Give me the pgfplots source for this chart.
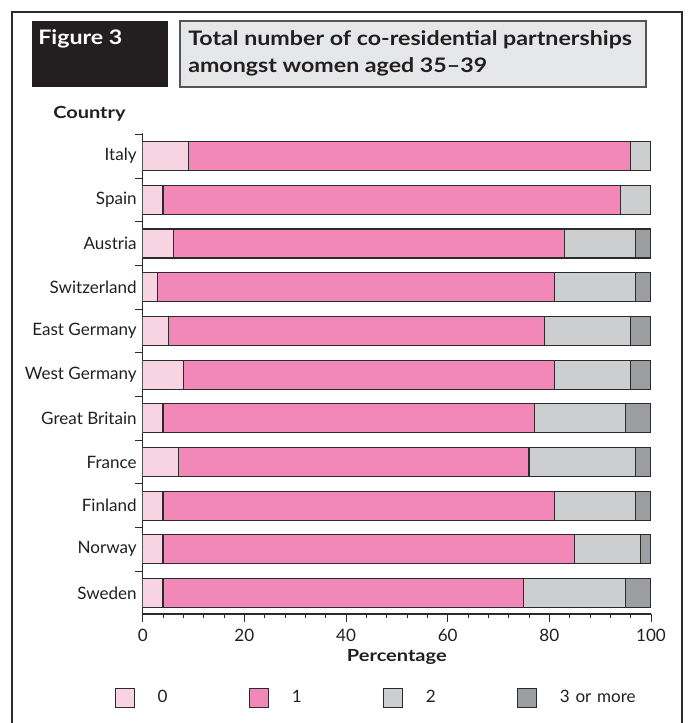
\documentclass[border=0pt]{standalone}
\usepackage{fontspec}
\setmainfont{Lato}
\newfontfamily\titlefont[FakeStretch=1.16,Ligatures=TeX]{Lato}
\newfontfamily\boldlab[FakeStretch=1.2,Ligatures=TeX]{Lato}
\usepackage{pgfplots}
\pgfplotsset{compat=1.18}
\definecolor{cZero}{HTML}{F8D3E1}
\definecolor{cOne}{HTML}{F288B7}
\definecolor{cTwo}{HTML}{CDCED0}
\definecolor{cThree}{HTML}{9D9EA2}
\definecolor{titlebg}{HTML}{E6E7E8}
\definecolor{figbg}{HTML}{231F20}
\definecolor{edge}{HTML}{2B2B2B}
\begin{document}
\begin{tikzpicture}
\path[use as bounding box] (0pt,0pt) rectangle (516pt,-542.25pt);
\begin{scope}[x=0.75pt,y=-0.75pt]
\draw[line width=0.9pt, edge] (12,723) -- (12,12) -- (682,12) -- (682,723);
\fill[figbg] (32,21) rectangle (168,87);
\node[anchor=base west, text=white, inner sep=0pt, font=\titlefont\bfseries\fontsize{15}{18}\selectfont] at (38,45) {Figure 3};
\draw[fill=titlebg, draw=edge!80, line width=0.8pt] (180,21) rectangle (646,87);
\node[anchor=base west, inner sep=0pt, text=figbg, font=\titlefont\bfseries\fontsize{15}{18}\selectfont] at (188,46) {Total number of co-residential partnerships};
\node[anchor=base west, inner sep=0pt, text=figbg, font=\titlefont\bfseries\fontsize{15}{18}\selectfont] at (188,73) {amongst women aged 35–39};
\node[anchor=base west, inner sep=0pt, text=figbg, font=\boldlab\bfseries\fontsize{12.5}{15}\selectfont] at (53,119) {Country};
\coordinate (axSW) at (142.7,614);
\end{scope}
\begin{axis}[
  at={(axSW)}, anchor=south west,
  width=381.2pt, height=360.75pt, scale only axis,
  xmin=0, xmax=100, ymin=-0.48, ymax=10.53,
  xbar stacked, bar width=21.75pt,
  axis x line*=bottom, axis y line*=left,
  axis line style={edge, line width=0.8pt},
  tick style={edge, line width=0.7pt},
  tick align=outside,
  xtick={0,20,...,100}, minor x tick num=4,
  major tick length=6pt, minor tick length=2.8pt,
  ytick={-0.5,0.5,...,10.5}, yticklabels={},
  extra y ticks={0,1,...,10},
  extra y tick labels={Sweden,Norway,Finland,France,Great Britain,West Germany,East Germany,Switzerland,Austria,Spain,Italy},
  extra y tick style={major tick length=0pt, yticklabel style={xshift=-1pt}},
  /pgf/number format/assume math mode=true,
  ticklabel style={font=\fontsize{12.8}{15}\selectfont, text=figbg},
  xticklabel style={yshift=-1.5pt},
  xlabel={Percentage},
  xlabel style={font=\boldlab\bfseries\fontsize{12.5}{15}\selectfont, text=figbg, yshift=0.5pt},
  legend style={at={(-0.0545,-0.174)}, anchor=west, draw=none, fill=none, inner sep=0pt, outer sep=0pt,
    font=\fontsize{12.8}{15}\selectfont, text=figbg,
    nodes={inner sep=0pt},
    /tikz/every odd column/.append style={column sep=17pt},
    /tikz/every even column/.append style={column sep=6.5pt, text width=62pt}},
  legend columns=4, legend cell align=left,
  legend image code/.code={\draw[#1] (0pt,-7pt) rectangle (14.25pt,7pt);},
  every axis plot/.append style={draw=edge, line width=0.8pt},
]
\addplot[fill=cZero] coordinates {(4,0) (4,1) (4,2) (7,3) (4,4) (8,5) (5,6) (3,7) (6,8) (4,9) (9,10)};
\addplot[fill=cOne] coordinates {(71,0) (81,1) (77,2) (69,3) (73,4) (73,5) (74,6) (78,7) (77,8) (90,9) (87,10)};
\addplot[fill=cTwo] coordinates {(20,0) (13,1) (16,2) (21,3) (18,4) (15,5) (17,6) (16,7) (14,8) (6,9) (4,10)};
\addplot[fill=cThree] coordinates {(5,0) (2,1) (3,2) (3,3) (5,4) (4,5) (4,6) (3,7) (3,8) (0,9) (0,10)};
\legend{0,1,2,3 or more}
\end{axis}
\end{tikzpicture}
\end{document}
